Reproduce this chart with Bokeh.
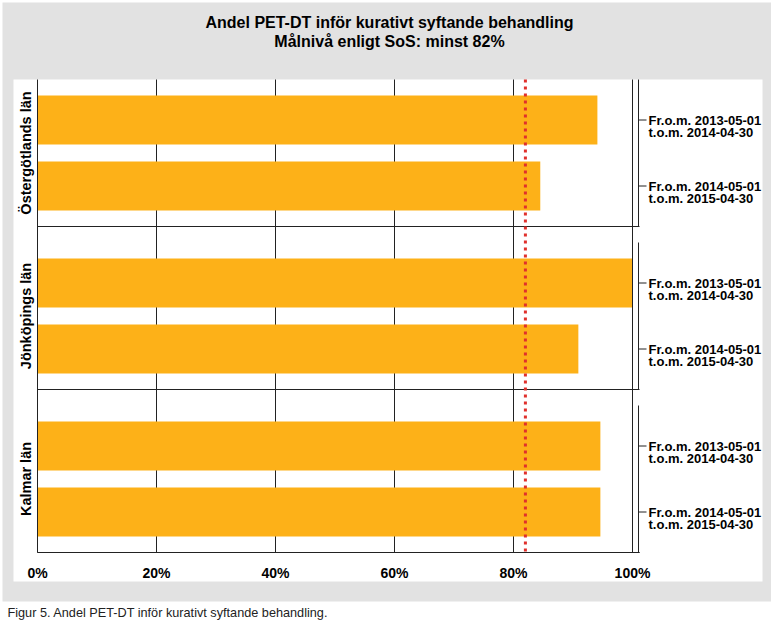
from bokeh.plotting import figure
from bokeh.models import Range1d, LinearAxis, FixedTicker, PrintfTickFormatter
from bokeh.core.properties import value
from bokeh.embed import file_html
from bokeh.resources import INLINE
import math

# ---- data ----
title_lines = ["Andel PET-DT inför kurativt syftande behandling", "Målnivå enligt SoS: minst 82%"]
caption = "Figur 5. Andel PET-DT inför kurativt syftande behandling."
groups = ["Östergötlands län", "Jönköpings län", "Kalmar län"]
period_line1 = ["Fr.o.m. 2013-05-01", "Fr.o.m. 2014-05-01"]
period_line2 = ["t.o.m. 2014-04-30", "t.o.m. 2015-04-30"]
values_ost = [94.1, 84.5]
values_jon = [100.0, 90.9]
values_kal = [94.6, 94.6]
target = 82
x_ticks = [0, 20, 40, 60, 80, 100]

all_values = [values_ost, values_jon, values_kal]

# ---- layout (canvas pixels) ----
X0, X100 = 37.0, 632.0
PPU = (X100 - X0) / 100.0
def px(xp):
    return (xp - X0) / PPU

W, H = 771, 622
FONT = value("Liberation Sans")
LINE = "#222222"

p = figure(width=W, height=H, output_backend="svg", toolbar_location=None,
           x_range=Range1d(px(0), px(W)), y_range=Range1d(H, 0),
           x_axis_type=None, y_axis_type=None, min_border=0,
           background_fill_color="white", border_fill_color="white")
p.outline_line_color = None
p.grid.visible = False

# outer gray panel and inner white area
p.quad(left=[px(2)], right=[px(776)], top=[2], bottom=[601], fill_color="#e2e2e2", line_color=None)
p.quad(left=[px(13)], right=[px(762)], top=[79], bottom=[581], fill_color="white", line_color=None)

panel_tops = [79, 242, 405]
panel_h = 147
plot_top, plot_bottom = 79, 552

# gridlines
grid_x = [t for t in x_ticks if 0 < t < 100]
p.segment(x0=grid_x, x1=grid_x, y0=[plot_top] * len(grid_x), y1=[plot_bottom] * len(grid_x),
          line_color=LINE, line_width=1)

# bars
bar_y, bar_v = [], []
for g, vals in enumerate(all_values):
    top = panel_tops[g]
    for b, v in enumerate(vals):
        bar_y.append(top + 40.5 + 66 * b)
        bar_v.append(v)
p.hbar(y=bar_y, left=0, right=bar_v, height=49, fill_color="#fdb118", line_color=None)

# frame lines
p.segment(x0=[0], x1=[0], y0=[plot_top], y1=[plot_bottom], line_color=LINE, line_width=1)
p.segment(x0=[100], x1=[100], y0=[plot_top], y1=[plot_bottom], line_color=LINE, line_width=1)
sep_y = [t + panel_h for t in panel_tops]
p.segment(x0=[0] * 3, x1=[px(639)] * 3, y0=sep_y, y1=sep_y, line_color=LINE, line_width=1)
p.segment(x0=[px(638)] * 3, x1=[px(638)] * 3, y0=panel_tops, y1=sep_y, line_color=LINE, line_width=1)

# right labels with small ticks
p.segment(x0=[px(638)] * len(bar_y), x1=[px(646)] * len(bar_y), y0=bar_y, y1=bar_y,
          line_color=LINE, line_width=1)
l1 = [period_line1[i % 2] for i in range(len(bar_y))]
l2 = [period_line2[i % 2] for i in range(len(bar_y))]
p.text(x=[px(648)] * len(bar_y), y=bar_y, text=l1, text_font=FONT, text_font_style="bold",
       text_font_size="13px", text_color="black", text_baseline="alphabetic", text_align="left")
p.text(x=[px(648)] * len(bar_y), y=[y + 12.5 for y in bar_y], text=l2, text_font=FONT,
       text_font_style="bold", text_font_size="13px", text_color="black",
       text_baseline="alphabetic", text_align="left")

# group labels
p.text(x=[px(25)] * 3, y=[t + panel_h / 2 for t in panel_tops], text=groups, angle=math.pi / 2,
       text_font=FONT, text_font_style="bold", text_font_size="14.5px", text_color="black",
       text_align="center", text_baseline="middle")

# target line
p.segment(x0=[target], x1=[target], y0=[plot_top], y1=[plot_bottom], line_color="#e0302c",
          line_width=3, line_dash="3 4")

# title
p.text(x=[px(389)] * 2, y=[22, 41], text=title_lines, text_font=FONT, text_font_style="bold",
       text_font_size="16px", text_color="black", text_align="center", text_baseline="middle")

# caption
p.text(x=[px(7)], y=[612], text=[caption], text_font=FONT, text_font_size="12.7px",
       text_color="#222222", text_align="left", text_baseline="middle")

# x axis
ax = LinearAxis(fixed_location=plot_bottom, ticker=FixedTicker(ticks=x_ticks),
                formatter=PrintfTickFormatter(format="%d%%"))
ax.axis_line_color = None
ax.major_tick_line_color = None
ax.minor_tick_line_color = None
ax.major_label_text_font = "Liberation Sans"
ax.major_label_text_font_style = "bold"
ax.major_label_text_font_size = "14px"
ax.major_label_text_color = "black"
ax.major_label_standoff = 6
p.add_layout(ax, "below")
p.segment(x0=[0], x1=[px(639)], y0=[plot_bottom], y1=[plot_bottom], line_color=LINE, line_width=1)

open("out.html", "w").write(file_html(p, INLINE))
